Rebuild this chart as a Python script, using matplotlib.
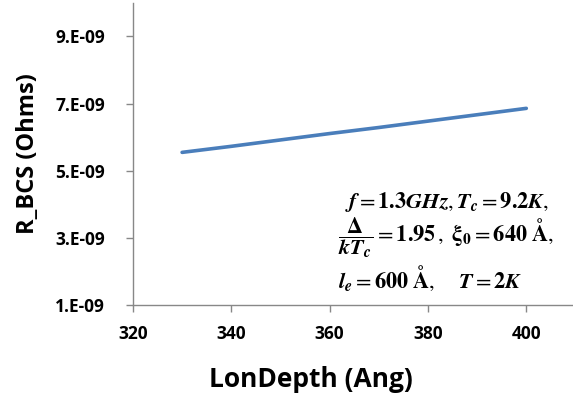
import matplotlib
matplotlib.use("Agg")
import matplotlib.pyplot as plt
import numpy as np

# data
depth = [330, 340, 350, 360, 370, 380, 390, 400]
rbcs = [5.55e-9, 5.73e-9, 5.92e-9, 6.11e-9, 6.29e-9, 6.48e-9, 6.67e-9, 6.86e-9]
xticks = [320, 340, 360, 380, 400]
yticks = [1e-9, 3e-9, 5e-9, 7e-9, 9e-9]
ytick_labels = ["1.E-09", "3.E-09", "5.E-09", "7.E-09", "9.E-09"]

plt.rcParams['font.family'] = ['Open Sans', 'DejaVu Sans']
plt.rcParams['mathtext.fontset'] = 'stix'

fig = plt.figure(figsize=(5.73, 4.07), dpi=100)
ax = fig.add_axes([0.232, 0.25, 0.768, 0.743])

ax.plot(depth, rbcs, color='#4A7EBB', lw=2.6, solid_capstyle='round')

ax.set_xlim(320, 409.5)
ax.set_ylim(1e-9, 1.0e-8)
ax.set_xticks(xticks)
ax.set_yticks(yticks)
ax.set_yticklabels(ytick_labels)
for lab in ax.get_xticklabels() + ax.get_yticklabels():
    lab.set_fontweight('bold')
    lab.set_fontsize(12.5)

for s in ['top', 'right']:
    ax.spines[s].set_visible(False)
for s in ['left', 'bottom']:
    ax.spines[s].set_color('#888888')
    ax.spines[s].set_linewidth(1.0)
ax.tick_params(axis='y', color='#888888', length=5, width=1.0, pad=15)
ax.tick_params(axis='x', color='#888888', length=5, width=1.0, pad=9)

ax.set_ylabel("R_BCS (Ohms)", fontsize=17, fontweight='bold')
ax.set_xlabel("LonDepth (Ang)", fontsize=19, fontweight='bold')
ax.yaxis.set_label_coords(-0.212, 0.5)
ax.xaxis.set_label_coords(0.405, -0.2)

# parameter box
l1 = r'$\mathbfit{f} = \mathbf{1.3}\mathbfit{GHz}, \mathbfit{T}_{\mathbfit{c}} = \mathbf{9.2}\mathbfit{K},$'
l2 = r'$\dfrac{\mathbf{\Delta}}{\mathbfit{kT}_{\mathbfit{c}}} = \mathbf{1.95}\,,\ \mathbf{\xi}_{\mathbf{0}} = \mathbf{640\ \AA},$'
l3 = r'$\mathbfit{l}_{\mathbfit{e}} = \mathbf{600\ \AA},\quad\; \mathbfit{T} = \mathbf{2}\mathbfit{K}$'
for txt, x, y in [(l1, 345, 202), (l2, 338, 238), (l3, 338, 278)]:
    fig.text(x / 573, 1 - y / 407, txt, fontsize=16, va='center', ha='left')

fig.savefig("out.png", dpi=100)
